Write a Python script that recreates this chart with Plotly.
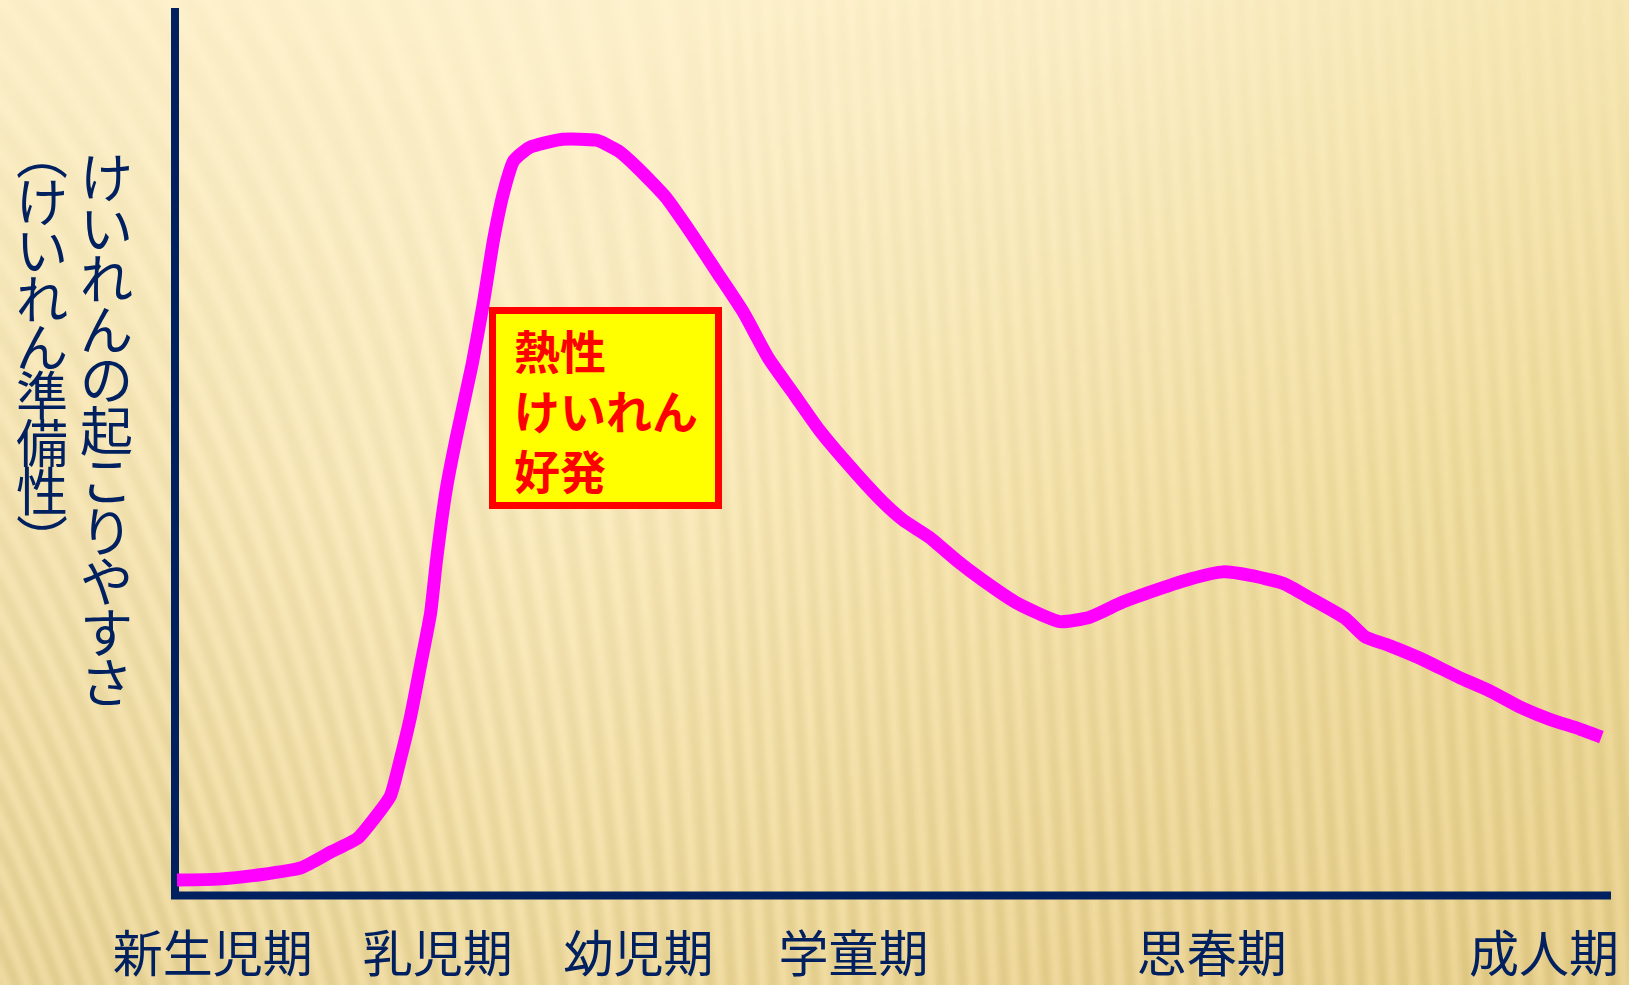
import base64
import math
import struct
import zlib

import plotly.graph_objects as go

# ---------------- data ----------------
stage_labels = ["新生児期", "乳児期", "幼児期", "学童期", "思春期", "成人期"]
stage_pos = [2.5, 18.2, 32.2, 47.2, 72.2, 95.4]

age_x = [0.0, 2.9, 5.8, 8.7, 10.8, 12.6, 13.7, 14.9, 15.6, 16.3, 17.0, 17.7, 18.1,
         18.8, 19.5, 20.6, 21.4, 22.1, 22.8, 23.5, 24.6, 26.8, 29.3, 30.8, 32.2,
         34.1, 35.9, 37.7, 39.5, 41.3, 43.1, 44.9, 47.5, 49.3, 50.7, 52.5, 54.4,
         56.2, 58.6, 61.6, 63.7, 66.0, 68.4, 70.7, 73.0, 74.9, 77.2, 78.9, 81.5,
         82.9, 84.6, 86.7, 89.5, 91.6, 93.7, 95.8, 97.9, 99.4]
susceptibility = [1.8, 1.9, 2.4, 3.2, 5.0, 6.5, 8.6, 11.3, 15.5, 20.2, 26.0, 31.9, 37.7,
                  45.9, 51.7, 59.9, 67.0, 74.0, 79.3, 82.8, 84.3, 85.2, 85.1, 83.9, 81.9,
                  78.7, 74.6, 70.2, 65.8, 60.5, 56.4, 52.3, 47.4, 44.3, 42.3, 40.4, 37.8,
                  35.6, 33.0, 30.9, 31.4, 33.1, 34.5, 35.7, 36.5, 36.1, 35.2, 33.7, 31.3,
                  29.2, 28.2, 26.8, 24.6, 23.1, 21.3, 19.9, 18.8, 17.9]

y_title_main = "けいれんの起こりやすさ"
y_title_sub = "（けいれん準備性）"
box_lines = ["熱性", "けいれん", "好発"]

# ---------------- canvas helpers ----------------
W, H = 1629, 985
NAVY = "#002060"
FONT = "Noto Sans CJK JP"


def px(x):
    return x / W


def py(y):
    return 1 - y / H


# background: textured gradient image (pure stdlib PNG)
grid_cols = [
    [(252, 239, 200), (253, 241, 205), (251, 238, 198), (246, 230, 178)],
    [(243, 226, 176), (248, 233, 188), (242, 224, 168), (236, 217, 152)],
    [(232, 212, 152), (236, 216, 156), (232, 209, 145), (229, 205, 138)],
]


def make_png(w, h):
    rows = []
    nr, nc = len(grid_cols), len(grid_cols[0])
    sx, sy = W / w, H / h
    for j in range(h):
        fy = j / (h - 1) * (nr - 1)
        r0 = min(int(fy), nr - 2)
        ty = fy - r0
        Y = j * sy
        row = bytearray([0])
        for i in range(w):
            fx = i / (w - 1) * (nc - 1)
            c0 = min(int(fx), nc - 2)
            tx = fx - c0
            X = i * sx
            slant = 0.06 + 0.35 * max(0.0, 1 - X / 700)
            phase = (X + slant * (H - Y)) / 21.0
            amp = 1.5 + 5.5 * (Y / H)
            s = amp * math.sin(2 * math.pi * phase)
            a = grid_cols[r0][c0]
            b = grid_cols[r0][c0 + 1]
            c = grid_cols[r0 + 1][c0]
            d = grid_cols[r0 + 1][c0 + 1]
            for k in range(3):
                top = a[k] * (1 - tx) + b[k] * tx
                bot = c[k] * (1 - tx) + d[k] * tx
                v = top * (1 - ty) + bot * ty + s * (1.0 if k < 2 else 1.4)
                row.append(max(0, min(255, int(round(v)))))
        rows.append(bytes(row))
    raw = b"".join(rows)

    def chunk(tag, data):
        return (struct.pack(">I", len(data)) + tag + data +
                struct.pack(">I", zlib.crc32(tag + data) & 0xffffffff))

    png = b"\x89PNG\r\n\x1a\n"
    png += chunk(b"IHDR", struct.pack(">IIBBBBB", w, h, 8, 2, 0, 0, 0))
    png += chunk(b"IDAT", zlib.compress(raw, 9))
    png += chunk(b"IEND", b"")
    return "data:image/png;base64," + base64.b64encode(png).decode()


bg_src = make_png(543, 329)

# ---------------- figure ----------------
fig = go.Figure()
fig.add_trace(go.Scatter(
    x=age_x, y=susceptibility, mode="lines",
    line=dict(color="#ff00ff", width=13, shape="spline", smoothing=0.5),
    cliponaxis=False, hoverinfo="skip", showlegend=False,
))

shapes = [
    # y axis line
    dict(type="line", xref="paper", yref="paper", layer="below",
         x0=px(175), x1=px(175), y0=py(899), y1=py(8),
         line=dict(color=NAVY, width=8)),
    # x axis line
    dict(type="line", xref="paper", yref="paper", layer="below",
         x0=px(171), x1=px(1611), y0=py(895.5), y1=py(895.5),
         line=dict(color=NAVY, width=8)),
    # callout box
    dict(type="rect", xref="paper", yref="paper", layer="above",
         x0=px(492.5), x1=px(718.5), y0=py(505.5), y1=py(310.5),
         fillcolor="#ffff00", line=dict(color="#ff0000", width=7)),
]

annotations = [
    dict(text="<br>".join(box_lines), xref="paper", yref="paper",
         x=px(512), y=py(409), xanchor="left", yanchor="middle", align="left",
         showarrow=False,
         font=dict(family=FONT, size=46, color="#ff0000", weight="bold")),
]


def vertical_text(chars, glyph_px, step_px):
    # stack glyphs top-to-bottom; line pitch = 1.3 * base size
    base = step_px / 1.3
    body = "<br>".join(
        '<span style="font-size:%dpx">%s</span>' % (glyph_px, c) for c in chars)
    return body, base


vert_map = {"（": "︵", "）": "︶"}

main_txt, main_base = vertical_text(list(y_title_main), 53, 50.5)
annotations.append(dict(
    text=main_txt, xref="paper", yref="paper", x=px(106), y=py(427),
    xanchor="center", yanchor="middle", align="center", showarrow=False,
    font=dict(family=FONT, size=main_base, color=NAVY)))

sub_txt, sub_base = vertical_text([vert_map.get(c, c) for c in y_title_sub], 52, 48.2)
annotations.append(dict(
    text=sub_txt, xref="paper", yref="paper", x=px(42), y=py(344),
    xanchor="center", yanchor="middle", align="center", showarrow=False,
    font=dict(family=FONT, size=sub_base, color=NAVY)))

fig.update_layout(
    width=W, height=H,
    margin=dict(l=0, r=0, t=0, b=0, pad=0, autoexpand=False),
    paper_bgcolor="#f4e4b4",
    plot_bgcolor="rgba(0,0,0,0)",
    showlegend=False,
    shapes=shapes,
    annotations=annotations,
    images=[dict(source=bg_src, xref="paper", yref="paper", x=0, y=1,
                 sizex=1, sizey=1, sizing="stretch", xanchor="left",
                 yanchor="top", layer="below")],
    xaxis=dict(domain=[px(175), px(1611)], range=[-0.14, 100.07],
               automargin=False,
               showgrid=False, zeroline=False, showline=False,
               tickmode="array", tickvals=stage_pos, ticktext=stage_labels,
               ticks="outside", ticklen=15, tickcolor="rgba(0,0,0,0)",
               tickfont=dict(family=FONT, size=50, color=NAVY),
               fixedrange=True),
    yaxis=dict(domain=[py(896), py(8)], range=[0, 100],
               automargin=False,
               showgrid=False, zeroline=False, showline=False,
               showticklabels=False, ticks="", fixedrange=True),
)

fig.write_html("out.html")
